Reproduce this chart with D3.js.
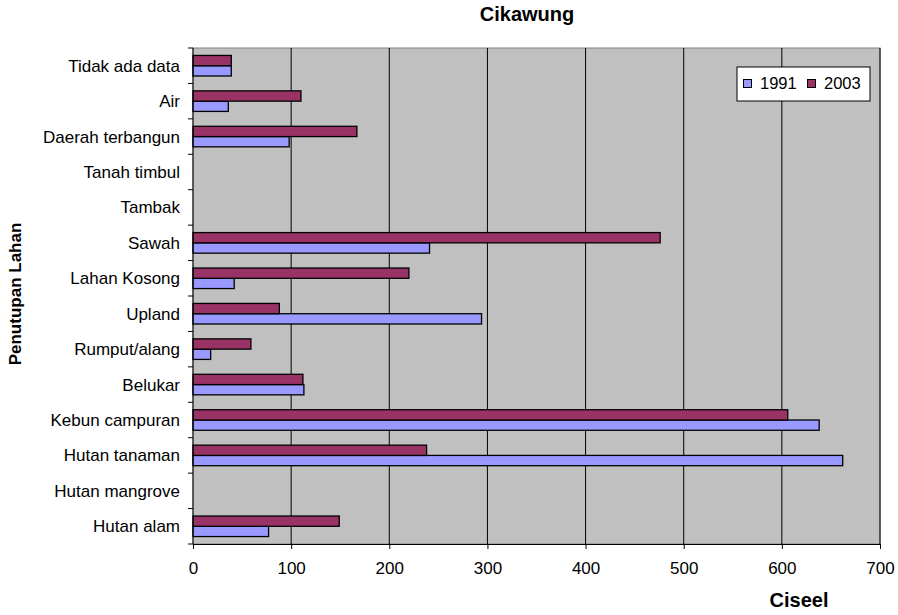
<!DOCTYPE html>
<html>
<head>
<meta charset="utf-8">
<script src="https://cdn.jsdelivr.net/npm/d3@7/dist/d3.min.js"></script>
<style>
  body { margin: 0; background: #fff; }
  svg { display: block; font-family: "Liberation Sans", Arial, sans-serif; }
</style>
</head>
<body>
<svg id="chart" width="898" height="615"></svg>
<script>
// Land cover categories, top to bottom
const categories = [
  "Tidak ada data", "Air", "Daerah terbangun", "Tanah timbul", "Tambak",
  "Sawah", "Lahan Kosong", "Upland", "Rumput/alang", "Belukar",
  "Kebun campuran", "Hutan tanaman", "Hutan mangrove", "Hutan alam"
];
const values1991 = [39, 36, 98, 0, 0, 241, 42, 294, 18, 113, 638, 662, 0, 77];
const values2003 = [39, 110, 167, 0, 0, 476, 220, 88, 59, 112, 606, 238, 0, 149];
const seriesNames = ["1991", "2003"];
const seriesColors = ["#9999FF", "#993366"];
const xTicks = [0, 100, 200, 300, 400, 500, 600, 700];

const svg = d3.select("#chart");
const pL = 193, pR = 880, pT = 48, pB = 544;
const FONT = 17;

const x = d3.scaleLinear().domain([0, 700]).range([pL, pR]);
const y = d3.scaleBand().domain(categories).range([pT, pB]).paddingInner(0.42).paddingOuter(0.21);
const sub = d3.scaleBand().domain(["2003", "1991"]).range([0, y.bandwidth()]);

// plot background
svg.append("rect").attr("x", pL).attr("y", pT).attr("width", pR - pL).attr("height", pB - pT)
  .attr("fill", "#C0C0C0").attr("stroke", "#808080").attr("stroke-width", 1);

// vertical gridlines
svg.append("g").selectAll("line").data(xTicks.slice(1)).join("line")
  .attr("x1", d => x(d)).attr("x2", d => x(d)).attr("y1", pT).attr("y2", pB)
  .attr("stroke", "#000").attr("stroke-width", 1);

// bars
const rows = categories.map((c, i) => ({ c, v: { "1991": values1991[i], "2003": values2003[i] } }));
seriesNames.forEach((s, si) => {
  svg.append("g").selectAll("rect").data(rows.filter(r => r.v[s] > 0)).join("rect")
    .attr("x", x(0))
    .attr("y", r => y(r.c) + sub(s))
    .attr("width", r => x(r.v[s]) - x(0))
    .attr("height", sub.bandwidth())
    .attr("fill", seriesColors[si])
    .attr("stroke", "#000").attr("stroke-width", 1.3);
});

// x axis
const xAxis = d3.axisBottom(x).tickValues(xTicks).tickSize(5).tickPadding(13).tickSizeOuter(0);
const gx = svg.append("g").attr("transform", `translate(0,${pB})`).call(xAxis);
gx.select(".domain").attr("stroke", "#000");
gx.selectAll("text").attr("font-size", FONT).attr("fill", "#000")
  .attr("font-family", "Liberation Sans, Arial, sans-serif");

// y axis: ticks at category boundaries
const boundaries = d3.range(categories.length + 1).map(i => pT + i * (pB - pT) / categories.length);
svg.append("line").attr("x1", pL).attr("x2", pL).attr("y1", pT).attr("y2", pB).attr("stroke", "#000");
svg.append("g").selectAll("line").data(boundaries).join("line")
  .attr("x1", pL - 5).attr("x2", pL).attr("y1", d => d).attr("y2", d => d).attr("stroke", "#000");
svg.append("g").selectAll("text").data(categories).join("text")
  .attr("x", 180).attr("y", d => y(d) + y.bandwidth() / 2 + 6)
  .attr("text-anchor", "end")
  .attr("font-size", FONT).attr("fill", "#000").text(d => d);

// titles
svg.append("text").attr("x", 527).attr("y", 21).attr("text-anchor", "middle")
  .attr("font-size", 20).attr("font-weight", "bold").text("Cikawung");
svg.append("text").attr("x", 799).attr("y", 607).attr("text-anchor", "middle")
  .attr("font-size", 20).attr("font-weight", "bold").text("Ciseel");
svg.append("text").attr("transform", "translate(21,294) rotate(-90)").attr("text-anchor", "middle")
  .attr("font-size", FONT).attr("font-weight", "bold").text("Penutupan Lahan");

// legend
const lg = svg.append("g").attr("transform", "translate(737,67)");
lg.append("rect").attr("width", 133).attr("height", 34).attr("fill", "#fff").attr("stroke", "#000");
seriesNames.forEach((s, i) => {
  const g = lg.append("g").attr("transform", `translate(${6.5 + i * 64},0)`);
  g.append("rect").attr("x", 0).attr("y", 12.5).attr("width", 8).attr("height", 8)
    .attr("fill", seriesColors[i]).attr("stroke", "#000");
  g.append("text").attr("x", 16.5).attr("y", 21.5).attr("font-size", 16.5).text(s);
});
</script>
</body>
</html>
